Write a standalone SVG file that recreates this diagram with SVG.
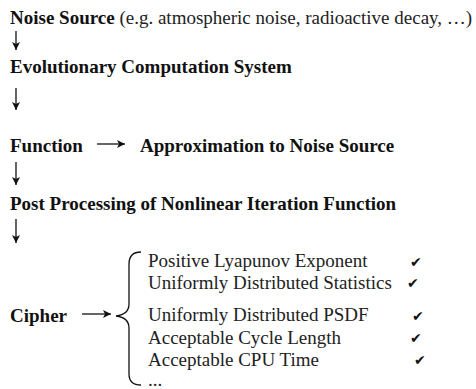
<svg xmlns="http://www.w3.org/2000/svg" width="476" height="389" viewBox="0 0 476 389">
<style>
.b{font-family:"Liberation Serif","Times New Roman",serif;font-weight:bold;font-size:19px;fill:#111}
.r{font-family:"Liberation Serif","Times New Roman",serif;font-weight:normal;font-size:19px;fill:#222}
.ck{font-family:"DejaVu Sans",sans-serif;font-size:14px;fill:#111}
.c{stroke:#111;stroke-width:1.3;fill:none}
</style>
<defs>
<marker id="ah" markerWidth="10" markerHeight="10" refX="8" refY="5" orient="auto" markerUnits="userSpaceOnUse">
<path d="M0,1 L8,5 L0,9 L2,5 Z" fill="#111"/>
</marker>
</defs>
<rect width="476" height="389" fill="#fff"/>
<g id="n-noise"><text class="b" x="10" y="24">Noise Source<tspan class="r"> (e.g. atmospheric noise, radioactive decay, …)</tspan></text></g>
<g id="n-ecs"><text class="b" x="10" y="73">Evolutionary Computation System</text></g>
<g id="n-function"><text class="b" x="10" y="152">Function</text></g>
<g id="n-approx"><text class="b" x="140" y="152">Approximation to Noise Source</text></g>
<g id="n-post"><text class="b" x="10" y="210">Post Processing of Nonlinear Iteration Function</text></g>
<g id="n-cipher"><text class="b" x="10" y="322">Cipher</text></g>
<g id="n-props">
<path class="c" stroke-width="1.6" d="M141,252 C133,252 129,256 129,264 L129,304 C129,311 124,315 116,316 C124,317 129,321 129,328 L129,374 C129,381 133,385 141,385"/>
<text class="r" x="148" y="267">Positive Lyapunov Exponent</text>
<text class="r" x="148" y="289">Uniformly Distributed Statistics</text>
<text class="r" x="148" y="321">Uniformly Distributed PSDF</text>
<text class="r" x="148" y="344">Acceptable Cycle Length</text>
<text class="r" x="148" y="366">Acceptable CPU Time</text>
<text class="r" x="148" y="386" font-size="12">...</text>
<text class="ck" x="410" y="267">✔</text>
<text class="ck" x="407" y="288">✔</text>
<text class="ck" x="412" y="321">✔</text>
<text class="ck" x="410" y="343">✔</text>
<text class="ck" x="414" y="365">✔</text>
</g>
<g id="connectors">
<path class="c" d="M16,31 L16,50" marker-end="url(#ah)"/>
<path class="c" d="M16,88 L16,110" marker-end="url(#ah)"/>
<path class="c" d="M16,162 L16,185" marker-end="url(#ah)"/>
<path class="c" d="M16,219 L16,243" marker-end="url(#ah)"/>
<path class="c" d="M97,144 L125,144" marker-end="url(#ah)"/>
<path class="c" d="M82,314 L111,314" marker-end="url(#ah)"/>
</g>
</svg>
